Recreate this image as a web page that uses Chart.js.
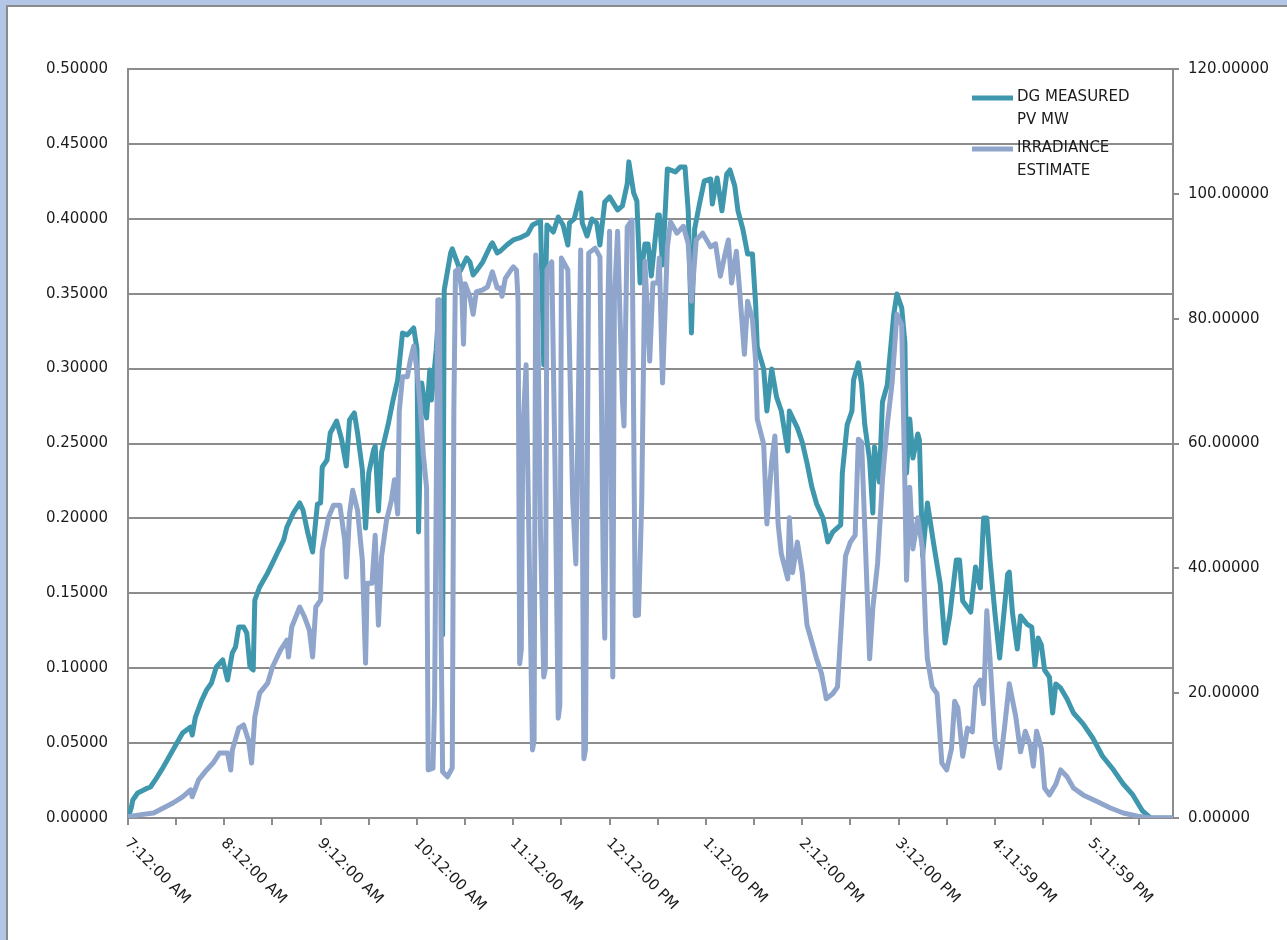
<!DOCTYPE html>
<html>
<head>
<meta charset="utf-8">
<script src="https://cdn.jsdelivr.net/npm/chart.js@4.4.1/dist/chart.umd.min.js"></script>
<style>
  html, body { margin: 0; padding: 0; background: #b4c6e6; overflow: hidden; }
  #frame { position: absolute; left: 6px; top: 5px; width: 1400px; height: 1000px; background: #fff; border: 2px solid #8a8a8a; }
  #c { position: absolute; left: 0; top: 0; }
</style>
</head>
<body>
<div id="frame"></div>
<canvas id="c" width="1287" height="940"></canvas>
<script>
// minutes after 7:12 AM
var xTickMinutes = [0, 60, 120, 180, 240, 300, 360, 420, 480, 540, 600];
var xTickLabels = ["7:12:00 AM", "8:12:00 AM", "9:12:00 AM", "10:12:00 AM", "11:12:00 AM", "12:12:00 PM",
    "1:12:00 PM", "2:12:00 PM", "3:12:00 PM", "4:11:59 PM", "5:11:59 PM"];

// DG MEASURED PV MW (left axis)
var pvTimes = [0,2,3,6,11,14,17,22,28,34,39,40,42,46,49,52,55,59,62,65,67,69,72,74,76,78,79,82,87,90,93,97,99,103,107,109,112,115,118,120,
    121,124,126,130,133,136,138,141,143,146,148,150,153,154,156,158,162,165,168,171,174,178,180,181,183,186,188,189,192,194,196,197,
    201,202,205,207,211,213,215,217,221,226,227,230,232,236,240,244,249,252,257,259,261,265,268,271,274,275,278,282,283,286,289,292,294,
    297,300,305,308,311,312,315,317,319,322,324,326,330,331,333,336,341,344,347,349,351,353,356,359,363,364,367,370,373,375,378,380,383,
    386,389,391,392,396,398,401,404,407,411,412,417,420,423,426,429,433,436,439,444,445,448,451,452,455,457,459,462,464,465,468,470,473,
    475,477,479,482,484,485,487,489,492,493,495,498,502,506,509,512,516,518,520,525,528,531,533,535,537,540,543,548,549,551,554,556,560,
    563,565,567,569,571,574,576,578,581,585,589,595,601,607,614,620,626,632,637,651];
var pvValues = [0,0.0067,0.012,0.0167,0.0194,0.0207,0.0254,0.034,0.0454,0.0567,0.0607,0.0554,0.0674,0.0788,0.0855,0.0901,0.1008,0.1055,0.0921,0.1102,
    0.1142,0.1275,0.1275,0.1235,0.1008,0.0988,0.1455,0.1542,0.1636,0.1702,0.1769,0.1856,0.1943,0.2036,0.2103,0.2056,0.1903,0.1776,0.2096,0.2103,
    0.2343,0.239,0.257,0.265,0.253,0.235,0.2657,0.2704,0.257,0.2323,0.1936,0.2303,0.2457,0.2483,0.205,0.2443,0.2624,0.2784,0.2924,0.3238,
    0.3225,0.3271,0.3131,0.1909,0.2904,0.267,0.2991,0.279,0.3124,0.3458,0.1222,0.3525,0.3772,0.3799,0.3712,0.3652,0.3739,0.3712,0.3625,0.3652,
    0.3712,0.3825,0.3839,0.3772,0.3785,0.3825,0.3859,0.3872,0.3899,0.3959,0.3986,0.3024,0.3959,0.3912,0.4012,0.3959,0.3825,0.3972,0.3999,0.4173,
    0.3972,0.3885,0.3999,0.3972,0.3825,0.4112,0.4146,0.4059,0.4086,0.4233,0.438,0.4173,0.4119,0.3572,0.3832,0.3832,0.3618,0.4026,0.4026,0.3692,
    0.4333,0.4313,0.4346,0.4346,0.4053,0.3238,0.3932,0.4099,0.4253,0.4266,0.4099,0.4273,0.4053,0.4299,0.4326,0.4219,0.4053,0.3932,0.3765,0.3765,
    0.3431,0.3144,0.2998,0.2717,0.2998,0.2811,0.2717,0.245,0.2717,0.2604,0.251,0.237,0.221,0.2096,0.2003,0.1843,0.1909,0.1956,0.2303,0.2624,
    0.2717,0.2924,0.3038,0.2897,0.2624,0.239,0.2036,0.2477,0.2243,0.2777,0.2891,0.3124,0.3358,0.3498,0.3405,0.3171,0.2303,0.2664,0.2403,0.2564,
    0.2524,0.1749,0.2103,0.1823,0.1562,0.1168,0.1355,0.1722,0.1722,0.1449,0.1375,0.1676,0.1535,0.2003,0.2003,0.1722,0.1375,0.1068,0.1629,0.1642,
    0.1369,0.1128,0.1349,0.1295,0.1275,0.1015,0.1202,0.1155,0.0988,0.0941,0.0701,0.0895,0.0868,0.0794,0.0701,0.0628,0.0534,0.0414,0.032,0.0227,
    0.0154,0.0047,0,0];

// IRRADIANCE ESTIMATE (right axis)
var irrTimes = [0,7,16,22,28,34,39,40,44,49,53,57,62,64,65,69,72,75,77,79,82,87,90,95,99,100,102,107,110,113,115,117,120,121,125,128,132,135,136,138,
    140,143,146,148,149,152,154,156,158,161,164,166,168,169,171,174,176,178,180,182,184,186,187,190,191,193,194,195,196,199,202,203,204,206,
    208,209,210,213,215,217,221,224,227,230,232,233,235,238,240,242,243,244,245,246,248,250,252,253,254,255,257,259,260,261,264,266,268,269,270,274,277,279,
    282,284,285,287,291,294,296,297,299,300,302,303,305,308,309,311,314,316,318,320,322,325,327,330,331,333,336,338,342,346,349,351,354,358,363,
    366,369,372,374,376,379,381,384,386,389,391,392,396,398,401,403,405,407,411,412,414,417,420,423,426,429,432,435,439,442,445,447,450,453,
    455,457,459,462,464,467,470,473,476,479,482,484,485,487,489,492,495,497,498,501,504,507,510,513,515,517,520,523,526,528,531,533,535,537,
    540,543,546,549,553,556,559,562,564,566,569,571,574,578,581,585,589,595,604,612,620,629,637,651];
var irrValues = [0.2,0.5,0.8,1.6,2.4,3.4,4.5,3.4,6.1,7.7,8.8,10.4,10.4,7.7,10.9,14.4,14.9,12.5,8.8,16.2,20.0,21.6,24.2,26.9,28.5,25.8,30.6,33.8,32.2,30.1,
    25.8,33.8,34.9,42.9,48.2,50.1,50.1,44.5,38.6,48.7,52.5,49.3,41.3,24.8,37.6,37.6,45.3,30.9,42.0,47.6,50.8,54.2,48.7,65.2,70.7,70.7,73.5,75.6,
    71.8,66.2,58.2,52.9,7.7,8.0,18.9,83.0,83.0,31.1,7.4,6.6,8.0,65.5,87.6,88.0,84.3,75.9,85.6,83.5,80.7,84.3,84.6,85.1,87.5,84.9,84.9,83.6,
    86.4,87.6,88.3,87.8,83.0,24.7,27.0,62.2,72.6,41.3,10.9,12.5,90.2,86.2,45.5,22.6,24.0,87.8,89.1,56.6,16.0,18.0,89.7,87.8,51.1,40.7,91.0,9.5,11.0,90.5,91.3,89.9,41.3,
    28.8,83.0,94.0,22.6,83.0,94.0,67.0,62.8,94.7,95.8,32.4,32.5,50.3,89.2,73.2,85.7,85.7,89.7,69.7,91.5,95.5,93.7,94.8,92.0,82.8,92.6,93.7,91.5,
    92.0,86.8,90.4,92.6,85.7,90.8,84.6,74.3,82.8,79.9,73.2,63.9,59.9,47.1,57.2,61.2,47.1,42.3,38.3,48.1,39.3,44.2,39.3,30.9,28.2,25.5,23.2,19.1,
    19.9,21.0,33.6,42.0,44.2,45.3,60.7,60.2,46.5,25.5,33.6,40.9,54.2,63.0,69.7,80.7,79.0,53.0,38.1,53.0,43.1,48.1,43.1,29.8,25.5,21.0,19.9,8.8,
    7.7,11.1,18.7,17.6,9.9,14.4,13.8,21.0,22.1,18.3,33.2,25.5,12.7,8.0,14.4,21.5,16.3,10.6,13.9,11.7,8.3,13.9,11.1,4.8,3.7,5.4,7.7,6.6,4.8,3.7,
    2.6,1.6,0.8,0.3,0,0];

var tealColor = '#3f97ad';
var blueColor = '#8fa5cb';
var gridColor = '#8c8c8c';
var textColor = '#1c1c1c';

Chart.defaults.font.family = '"DejaVu Sans"';
Chart.defaults.font.size = 15;
Chart.defaults.color = textColor;

function toPoints(times, values) {
    var pts = [];
    for (var i = 0; i < times.length; i++) {
        pts.push({x: times[i], y: values[i]});
    }
    return pts;
}

var timeLabels = {
    id: 'timeLabels',
    afterDraw: function(chart) {
        var c = chart.ctx;
        var xs = chart.scales.x;
        c.save();
        c.font = '15px "DejaVu Sans"';
        c.fillStyle = textColor;
        c.textAlign = 'left';
        c.textBaseline = 'middle';
        for (var i = 0; i < xTickLabels.length; i++) {
            var px = xs.getPixelForValue(xTickMinutes[i]);
            c.save();
            c.translate(px - 1, chart.chartArea.bottom + 23);
            c.rotate(Math.PI / 4);
            c.fillText(xTickLabels[i], 0, 0);
            c.restore();
        }
        c.restore();
    }
};

var wrappedLegend = {
    id: 'wrappedLegend',
    afterDraw: function(chart) {
        var c = chart.ctx;
        var items = [
            {color: tealColor, lines: ["DG MEASURED", "PV MW"]},
            {color: blueColor, lines: ["IRRADIANCE", "ESTIMATE"]}
        ];
        var left = chart.chartArea.right - 201, top = 97;
        c.save();
        c.font = '15px "DejaVu Sans"';
        c.textAlign = 'left';
        c.textBaseline = 'middle';
        items.forEach(function(it, k) {
            var y = top + k * 51;
            c.strokeStyle = it.color;
            c.lineWidth = 5;
            c.beginPath();
            c.moveTo(left, y + 1);
            c.lineTo(left + 41, y + 1);
            c.stroke();
            c.fillStyle = textColor;
            it.lines.forEach(function(t, j) {
                c.fillText(t, left + 45, y + j * 23);
            });
        });
        c.restore();
    }
};

var ctx = document.getElementById('c').getContext('2d');
var myChart = new Chart(ctx, {
    type: 'line',
    data: {
        datasets: [{
            label: 'DG MEASURED PV MW',
            data: toPoints(pvTimes, pvValues),
            yAxisID: 'y',
            borderColor: tealColor,
            borderWidth: 5,
            borderJoinStyle: 'round',
            borderCapStyle: 'round',
            pointRadius: 0,
            order: 1
        }, {
            label: 'IRRADIANCE ESTIMATE',
            data: toPoints(irrTimes, irrValues),
            yAxisID: 'y2',
            borderColor: blueColor,
            borderWidth: 5,
            borderJoinStyle: 'round',
            borderCapStyle: 'round',
            pointRadius: 0,
            order: 0
        }]
    },
    options: {
        responsive: false,
        animation: false,
        layout: { padding: { top: 69 } },
        plugins: { legend: { display: false }, tooltip: { enabled: false } },
        scales: {
            x: {
                type: 'linear', min: 0, max: 651,
                ticks: { display: false, stepSize: 30, includeBounds: false },
                grid: { drawOnChartArea: false, tickLength: 7, color: gridColor, lineWidth: 2 },
                border: { color: gridColor, width: 2 },
                afterFit: function(s) { s.height = 122; }
            },
            y: {
                position: 'left', min: 0, max: 0.5,
                ticks: { stepSize: 0.05, padding: 20, callback: function(v) { return v.toFixed(5); } },
                grid: { color: gridColor, lineWidth: 2, drawTicks: false, tickLength: 0 },
                border: { color: gridColor, width: 2 },
                afterFit: function(s) { s.width = 128; }
            },
            y2: {
                position: 'right', min: 0, max: 120,
                ticks: { stepSize: 20, padding: 9, callback: function(v) { return v.toFixed(5); } },
                grid: { drawOnChartArea: false, tickLength: 6, color: gridColor, lineWidth: 2 },
                border: { color: gridColor, width: 2 },
                afterFit: function(s) { s.width = 114; }
            }
        }
    },
    plugins: [timeLabels, wrappedLegend]
});
</script>
</body>
</html>
